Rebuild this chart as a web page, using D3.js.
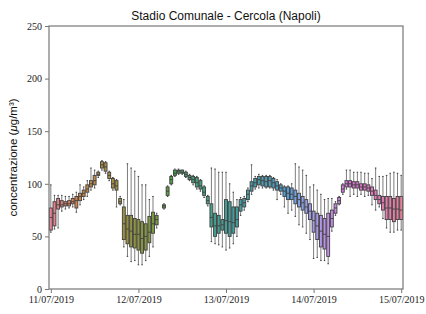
<!DOCTYPE html>
<html lang="en">
<head>
  <meta charset="UTF-8">
  <title>Stadio Comunale - Cercola (Napoli)</title>
  <style>
    body { margin: 0; background: #ffffff; }
    svg { display: block; }
    .tick text { font-family: "Liberation Serif", "DejaVu Serif", serif; font-size: 10px; fill: #222; }
    .title { font-family: "Liberation Sans", Arial, sans-serif; font-size: 12px; fill: #111; }
    .ylabel { font-family: "Liberation Sans", Arial, sans-serif; font-size: 11.5px; fill: #111; }
  </style>
</head>
<body>
  <div id="chart"></div>

  <script src="https://d3js.org/d3.v7.min.js"></script>
  <script>
    // hourly boxplots, 11/07/2019 00:00 -> 15/07/2019 00:00 (null = no data)
    const hours = d3.range(97);
    const dateLabels = ["11/07/2019", "12/07/2019", "13/07/2019", "14/07/2019", "15/07/2019"];
    const yTicks = [0, 50, 100, 150, 200, 250];

    const whiskLow = [
      54, 57, 58, 74, 76, 77, 78, 73, 80, 85, 88, 94, 96, 106, 113, 110, 103, 94, 78, 80, 40, 31, 26, 27,
      23, 23, 27, 31, 40, 58, null, 76, 88, 99, 107, 109, 109, 106, 103, 99, 95, 93, 87, 79, 45, 43, 42, 40,
      37, 39, 43, 50, 70, 75, 83, 90, 95, 96, 96, 96, 96, 94, 85, 90, 78, 72, 75, 69, 61, 59, 53, 47,
      29, 30, 27, 27, 24, 55, 70, 80, 90, 95, 88, 90, 88, 90, 88, 89, 80, 75, 78, 67, 58, 54, 54, 56,
      56
    ];
    const q1 = [
      56, 60, 76, 78, 79, 79, 81, 77, 84, 88, 92, 97, 99, 108, 115, 112, 105, 96, 94, 81, 47, 43, 40, 39,
      37, 34, 37, 44, 53, 61, null, 77, 89, 100, 108, 110, 110, 107, 104, 101, 97, 95, 89, 81, 59, 50, 53, 56,
      53, 50, 53, 59, 74, 78, 85, 93, 97, 99, 98, 97, 97, 96, 94, 93, 88, 85, 85, 81, 78, 75, 72, 66,
      54, 47, 40, 38, 31, 59, 72, 81, 92, 97, 97, 96, 96, 94, 94, 93, 89, 85, 81, 75, 66, 66, 64, 66,
      66
    ];
    const median = [
      68, 72, 80, 80, 81, 81, 83, 84, 88, 91, 95, 100, 103, 109, 118, 116, 108, 100, 98, 83, 62, 57, 55, 52,
      52, 48, 50, 54, 62, 66, null, 79, 93, 104, 110, 112, 111, 109, 106, 104, 101, 98, 92, 84, 68, 60, 60, 61,
      65, 64, 63, 66, 80, 82, 90, 98, 101, 104, 103, 102, 103, 101, 98, 96, 93, 91, 90, 88, 85, 82, 78, 74,
      65, 60, 55, 52, 50, 67, 77, 84, 95, 100, 100, 99, 99, 97, 97, 96, 93, 89, 85, 82, 77, 77, 76, 76,
      75
    ];
    const q3 = [
      77, 83, 86, 84, 83, 84, 86, 88, 91, 94, 99, 103, 108, 111, 121, 120, 111, 105, 103, 86, 78, 70, 70, 67,
      66, 64, 62, 69, 73, 70, null, 80, 97, 107, 113, 113, 113, 111, 108, 107, 106, 103, 97, 88, 81, 72, 70, 66,
      85, 83, 78, 78, 85, 86, 94, 102, 105, 107, 107, 107, 107, 105, 102, 99, 97, 97, 96, 94, 91, 88, 85, 81,
      74, 72, 70, 67, 72, 75, 81, 87, 99, 103, 103, 102, 102, 100, 100, 99, 97, 94, 89, 88, 88, 88, 86, 88,
      88
    ];
    const whiskHigh = [
      99, 89, 89, 89, 88, 88, 90, 92, 99, 97, 103, 115, 113, 112, 122, 121, 112, 106, 104, 88, 85, 119, 115, 112,
      107, 99, 99, 85, 88, 72, null, 81, 98, 108, 114, 114, 113, 112, 109, 108, 107, 104, 98, 89, 115, 114, 111, 111,
      111, 100, 92, 85, 87, 88, 96, 118, 107, 109, 108, 108, 108, 106, 104, 100, 98, 98, 100, 119, 116, 113, 108, 97,
      99, 94, 90, 85, 86, 86, 83, 88, 100, 113, 113, 111, 111, 111, 110, 110, 105, 115, 107, 107, 108, 110, 111, 110,
      108
    ];

    // husl (hsluv) palette like seaborn's husl_palette(97), then desaturated by 0.75
    const M = [
      [3.240969941904521, -1.537383177570093, -0.498610760293],
      [-0.96924363628087, 1.87596750150772, 0.041555057407175],
      [0.055630079696993, -0.20397695888897, 1.056971514242878]
    ];
    function maxChroma(L, H) {
      const sub1 = Math.pow(L + 16, 3) / 1560896;
      const sub2 = sub1 > 0.0088564516 ? sub1 : L / 903.2962962;
      const hr = H / 360 * Math.PI * 2;
      let best = Infinity;
      for (const [m1, m2, m3] of M) {
        for (const t of [0, 1]) {
          const top1 = (284517 * m1 - 94839 * m3) * sub2;
          const top2 = (838422 * m3 + 769860 * m2 + 731718 * m1) * L * sub2 - 769860 * t * L;
          const bottom = (632260 * m3 - 126452 * m2) * sub2 + 126452 * t;
          const len = (top2 / bottom) / (Math.sin(hr) - (top1 / bottom) * Math.cos(hr));
          if (len >= 0) best = Math.min(best, len);
        }
      }
      return best;
    }
    function husl(H, S, L) {
      const C = maxChroma(L, H) / 100 * S;
      const hr = H / 360 * Math.PI * 2;
      const u = C * Math.cos(hr), v = C * Math.sin(hr);
      const Y = L > 8 ? Math.pow((L + 16) / 116, 3) : L / 903.2962962;
      const un = 0.19783000664283, vn = 0.46831999493879;
      const up = u / (13 * L) + un, vp = v / (13 * L) + vn;
      const X = Y * 9 * up / (4 * vp);
      const Z = Y * (12 - 3 * up - 20 * vp) / (4 * vp);
      const lin = M.map(r => r[0] * X + r[1] * Y + r[2] * Z);
      const rgb = lin.map(c => {
        const g = c <= 0.0031308 ? 12.92 * c : 1.055 * Math.pow(c, 1 / 2.4) - 0.055;
        return Math.max(0, Math.min(255, Math.round(g * 255)));
      });
      return d3.rgb(rgb[0], rgb[1], rgb[2]);
    }
    const palette = hours.map(i => {
      const h = ((i / 97 + 0.01) % 1) * 359;
      const c = d3.hsl(husl(h, 0.9 * 99, 0.65 * 99));
      c.s *= 0.75;
      return c;
    });
    const lum = d3.min(palette, c => c.l) * 0.6;
    const gray = d3.rgb(lum * 255, lum * 255, lum * 255).formatHex();
    const whiskGray = "#7c7c7c";

    const width = 426, height = 314;
    const margin = { top: 26, right: 23, bottom: 25, left: 49 };

    const svg = d3.select("#chart").append("svg")
      .attr("width", width)
      .attr("height", height);

    const x = d3.scaleLinear().domain([-0.5, 96.5]).range([margin.left, width - margin.right]);
    const y = d3.scaleLinear().domain([0, 250]).range([height - margin.bottom, margin.top]);
    const bw = (x(1) - x(0)) * 0.8;

    const data = hours.map(i => ({
      i, lo: whiskLow[i], q1: q1[i], med: median[i], q3: q3[i], hi: whiskHigh[i]
    })).filter(d => d.med != null);

    const g = svg.append("g");

    // whiskers
    g.selectAll("line.wl").data(data).enter().append("line")
      .attr("x1", d => x(d.i)).attr("x2", d => x(d.i))
      .attr("y1", d => y(d.q1)).attr("y2", d => y(d.lo))
      .attr("stroke", whiskGray).attr("stroke-width", 1);
    g.selectAll("line.wh").data(data).enter().append("line")
      .attr("x1", d => x(d.i)).attr("x2", d => x(d.i))
      .attr("y1", d => y(d.q3)).attr("y2", d => y(d.hi))
      .attr("stroke", whiskGray).attr("stroke-width", 1);
    // caps
    ["lo", "hi"].forEach(k => {
      g.selectAll("line.cap-" + k).data(data).enter().append("line")
        .attr("x1", d => x(d.i) - bw / 4).attr("x2", d => x(d.i) + bw / 4)
        .attr("y1", d => y(d[k])).attr("y2", d => y(d[k]))
        .attr("stroke", gray).attr("stroke-width", 1);
    });
    // boxes
    g.selectAll("rect.box").data(data).enter().append("rect")
      .attr("x", d => x(d.i) - bw / 2)
      .attr("width", bw)
      .attr("y", d => y(d.q3))
      .attr("height", d => Math.max(0.5, y(d.q1) - y(d.q3)))
      .attr("fill", d => palette[d.i])
      .attr("stroke", gray).attr("stroke-width", 0.9);
    // medians
    g.selectAll("line.med").data(data).enter().append("line")
      .attr("x1", d => x(d.i) - bw / 2).attr("x2", d => x(d.i) + bw / 2)
      .attr("y1", d => y(d.med)).attr("y2", d => y(d.med))
      .attr("stroke", gray).attr("stroke-width", 0.9);

    // frame
    svg.append("rect")
      .attr("x", margin.left).attr("y", margin.top)
      .attr("width", width - margin.left - margin.right)
      .attr("height", height - margin.top - margin.bottom)
      .attr("fill", "none").attr("stroke", "#777").attr("stroke-width", 1.2);

    const yAxis = svg.append("g")
      .attr("transform", `translate(${margin.left},0)`)
      .call(d3.axisLeft(y).tickValues(yTicks).tickSize(4).tickPadding(3));
    const xAxis = svg.append("g")
      .attr("transform", `translate(0,${height - margin.bottom})`)
      .call(d3.axisBottom(x).tickValues([0, 24, 48, 72, 96]).tickFormat((d, k) => dateLabels[k]).tickSize(4).tickPadding(3));
    [yAxis, xAxis].forEach(a => {
      a.select(".domain").remove();
      a.selectAll(".tick line").attr("stroke", "#777");
    });

    svg.append("text").attr("class", "title")
      .attr("x", (margin.left + width - margin.right) / 2).attr("y", 20)
      .attr("text-anchor", "middle")
      .text("Stadio Comunale - Cercola (Napoli)");

    const yl = svg.append("text").attr("class", "ylabel")
      .attr("transform", `translate(17,${(margin.top + height - margin.bottom) / 2}) rotate(-90)`)
      .attr("text-anchor", "middle");
    yl.append("tspan").text("concentrazione (");
    yl.append("tspan").attr("font-style", "italic").text("μ");
    yl.append("tspan").text("g/m³)");
  </script>
</body>
</html>
